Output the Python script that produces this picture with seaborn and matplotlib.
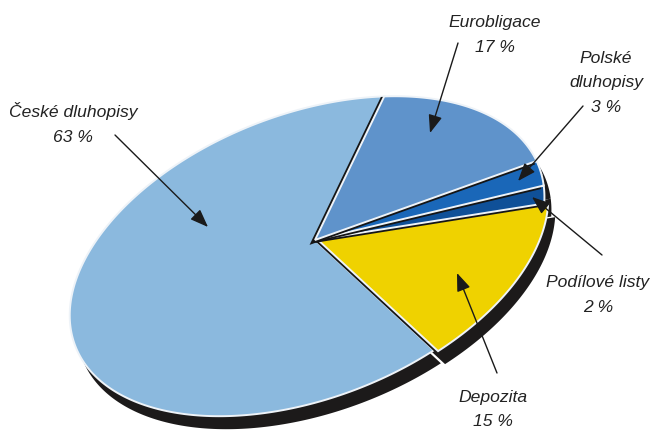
import matplotlib
matplotlib.use("Agg")
import numpy as np
import matplotlib.pyplot as plt
from matplotlib.path import Path
from matplotlib.transforms import Affine2D, Transform
import seaborn as sns

# Portfolio structure (clockwise from the top)
labels = ["Eurobligace", "Polské dluhopisy", "Podílové listy", "Depozita", "České dluhopisy"]
shares = [17, 3, 2, 15, 63]
colors = ["#5f93cb", "#1a67b8", "#0f5098", "#efd200", "#8bb9de"]

# label text lines, anchor (x, first baseline) and arrow (tail, tip) in pixels
label_lines = [["Eurobligace", "17 %"],
               ["Polské", "dluhopisy", "3 %"],
               ["Podílové listy", "2 %"],
               ["Depozita", "15 %"],
               ["České dluhopisy", "63 %"]]
label_pos = [(495, 27), (606, 63), (598, 287), (493, 402), (73, 117)]
arrows = [((458, 43), (430, 133)),
          ((583, 106), (518, 181)),
          ((602, 255), (532, 197)),
          ((497, 373), (457, 273)),
          ((115, 135), (208, 227))]


class DiscView(Transform):
    """Perspective view of the unit disc onto the page (pixel units)."""
    input_dims = output_dims = 2
    is_separable = False
    has_inverse = False

    def __init__(self, m, g, h, origin):
        super().__init__()
        self.m = np.asarray(m, float)
        self.g, self.h = g, h
        self.origin = np.asarray(origin, float)

    def transform_non_affine(self, values):
        v = np.asarray(values, float).reshape(-1, 2)
        x, y = v[:, 0], v[:, 1]
        w = 1.0 + self.g * x + self.h * y
        px = (self.m[0, 0] * x + self.m[0, 1] * y) / w + self.origin[0]
        py = (self.m[1, 0] * x + self.m[1, 1] * y) / w + self.origin[1]
        return np.column_stack([px, py])

    def transform_path_non_affine(self, path):
        # flatten Bezier arcs first so the projected outline stays exact
        verts, codes = [], []
        start = None
        for seg, code in path.iter_bezier():
            cp = seg.control_points
            if code == Path.MOVETO:
                start = cp[-1]
                verts.append(cp[-1]); codes.append(Path.MOVETO)
            elif code == Path.LINETO:
                verts.append(cp[-1]); codes.append(Path.LINETO)
            elif code in (Path.CURVE3, Path.CURVE4):
                t = np.linspace(0, 1, 40)[1:]
                pts = seg(t)
                verts.extend(pts); codes.extend([Path.LINETO] * len(pts))
            elif code == Path.CLOSEPOLY:
                verts.append(start); codes.append(Path.LINETO)
                verts.append(start); codes.append(Path.CLOSEPOLY)
        if not verts:
            return path
        return Path(self.transform_non_affine(np.array(verts)), codes)


sns.set_theme(style="white")
plt.rcParams["font.family"] = ["Liberation Sans", "DejaVu Sans"]

W, H = 652, 432
fig = plt.figure(figsize=(W / 100, H / 100), dpi=100)
ax = fig.add_axes([0, 0, 1, 1])

view = DiscView([[232.3, -41.6], [-83.4, -134.6]], 0.0496, 0.0885, (315, 240))
explode = [0, 0, 0, 0.02, 0]


def draw_pie(cols, offset=(0, 0), edge="none", lw=0.0, radius=1.0):
    wedges, _ = ax.pie(shares, colors=cols, startangle=61, counterclock=False,
                       explode=explode, radius=radius,
                       wedgeprops=dict(edgecolor=edge, linewidth=lw))
    tr = view + Affine2D().translate(*offset) + ax.transData
    for w in wedges:
        w.set_transform(tr)
    return wedges


# dark body of the disc, showing below the rim
body = draw_pie(["#1c1a1a"] * len(shares), offset=(7, 13))
for w in body:
    w.set_zorder(1)

# dark seams along the radial slice edges (pulled in from the rim)
seams = draw_pie(["#151515"] * len(shares), edge="#151515", lw=4.0, radius=0.975)

# coloured top faces
tops = draw_pie(colors, edge="#eef3f8", lw=1.4)

seams[4].set_visible(False)
tops[4].set_zorder(2)
z = 3
for i in [3, 2, 1, 0]:
    seams[i].set_zorder(z)
    tops[i].set_zorder(z + 1)
    z += 2

ax.set_aspect("auto")
ax.set_xlim(0, W)
ax.set_ylim(H, 0)
ax.axis("off")

for lines, (x, y0), ((tx, ty), (hx, hy)) in zip(label_lines, label_pos, arrows):
    for k, line in enumerate(lines):
        ax.text(x, y0 + k * 24.5, line, ha="center", va="baseline",
                fontsize=12.6, style="italic", color="#222222", zorder=20)
    ax.annotate("", xy=(hx, hy), xytext=(tx, ty), zorder=21,
                arrowprops=dict(arrowstyle="-|>,head_length=1.1,head_width=0.42",
                                mutation_scale=10, color="#1a1a1a", lw=1.0,
                                shrinkA=0, shrinkB=0))

fig.savefig("out.png", dpi=100, facecolor="white")
